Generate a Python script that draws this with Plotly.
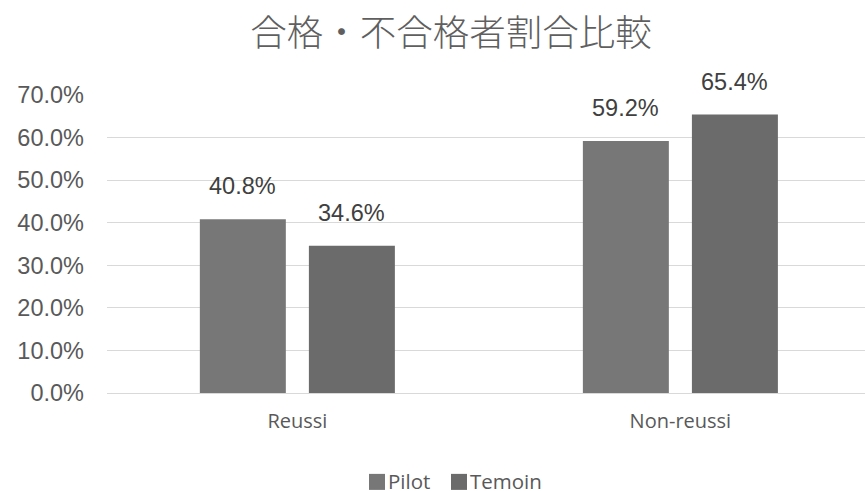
import plotly.graph_objects as go

# Share of candidates who passed / failed, by group
categories = ["Reussi", "Non-reussi"]
series_names = ["Pilot", "Temoin"]
pilot_values = [0.408, 0.592]
temoin_values = [0.346, 0.654]
y_ticks = [0.0, 0.1, 0.2, 0.3, 0.4, 0.5, 0.6, 0.7]

colors = ["#777777", "#6b6b6b"]
bar_width = 0.2245
offsets = [-0.2546, 0.0301]

W, H = 865, 491
M_L, M_R, M_T, M_B = 107, 0, 95, 98.3
plot_w = W - M_L - M_R
plot_h = H - M_T - M_B


def px_x(px):
    return (px - M_L) / plot_w


def px_y(py):
    return (H - M_B - py) / plot_h


fig = go.Figure()
for name, vals, col, off in zip(series_names, [pilot_values, temoin_values], colors, offsets):
    fig.add_trace(go.Bar(
        x=categories, y=vals, name=name,
        marker=dict(color=col, line=dict(width=0)),
        width=bar_width, offset=off, showlegend=False,
    ))
    # value labels above each bar
    for i, v in enumerate(vals):
        fig.add_annotation(
            x=i + off + bar_width / 2, y=v, xref="x", yref="y",
            text=f"{v * 100:.1f}%", showarrow=False,
            yanchor="bottom", xanchor="center", yshift=18,
            font=dict(family="Liberation Sans, Arial", size=23.5, color="#404040"),
        )

# legend row below the axis: square key + series name for each series
legend_keys_px = [369, 451]   # left edge of each key square
key_size = 16
legend_mid = 481
for name, col, kx in zip(series_names, colors, legend_keys_px):
    fig.add_shape(
        type="rect", xref="paper", yref="paper",
        x0=px_x(kx), x1=px_x(kx + key_size),
        y0=px_y(legend_mid + key_size / 2 + 0.5), y1=px_y(legend_mid - key_size / 2 + 0.5),
        fillcolor=col, line=dict(width=0),
    )
    fig.add_annotation(
        x=px_x(kx + key_size + 1), y=px_y(legend_mid), xref="paper", yref="paper",
        text=name, showarrow=False, xanchor="left", yanchor="middle",
        font=dict(family="Open Sans", size=20.5, color="#595959"),
    )

fig.update_layout(
    width=W, height=H,
    margin=dict(l=M_L, r=M_R, t=M_T, b=M_B),
    paper_bgcolor="white", plot_bgcolor="white",
    barmode="overlay",
    title=dict(
        text="合格・不合格者割合比較",
        x=451 / W, xref="container", xanchor="center",
        y=1 - 33 / H, yref="container", yanchor="middle",
        font=dict(family="Noto Sans CJK JP", size=36.5, color="#5f5f5f", weight=300),
    ),
    showlegend=False,
)

fig.update_xaxes(
    type="category", range=[-0.497, 1.482],
    showgrid=False, showline=False, ticks="",
    tickfont=dict(family="Open Sans", size=20, color="#595959"),
    ticklabelstandoff=14,
)
fig.update_yaxes(
    range=[0, 0.7], tickvals=y_ticks, tickformat=".1%",
    showgrid=True, gridcolor="#d9d9d9", gridwidth=1,
    zeroline=True, zerolinecolor="#d9d9d9", zerolinewidth=1,
    showline=False, ticks="",
    tickfont=dict(family="Liberation Sans, Arial", size=23.5, color="#595959"),
    ticklabelstandoff=22,
)

fig.write_html("out.html")
